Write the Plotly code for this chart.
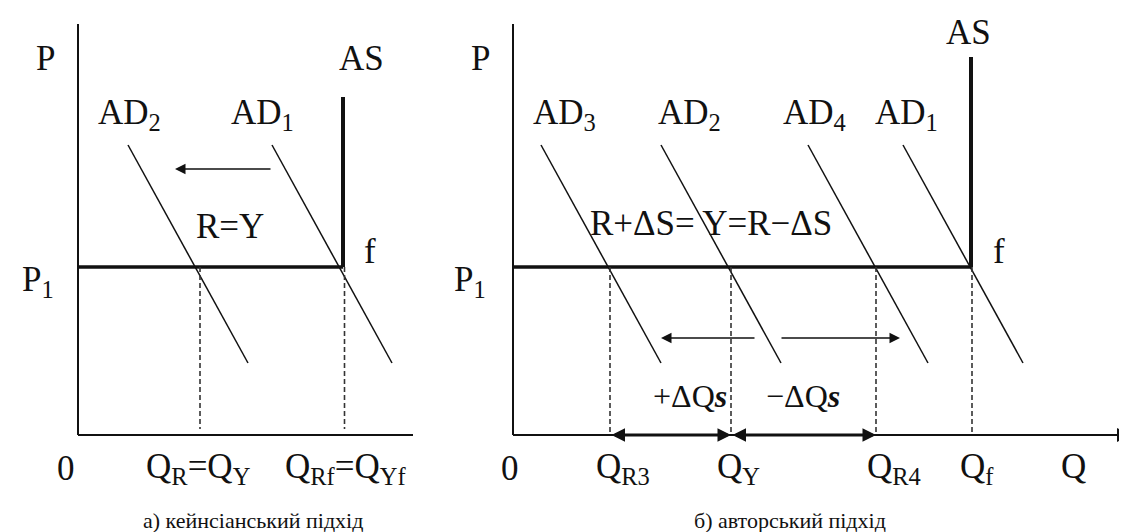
import plotly.graph_objects as go

W, H = 1127, 532

# ---------------- data (units: Q, P in arbitrary chart units) ----------------
P_TOP = 41.1          # top of price axis
P1 = 16.8             # price level P1

# left panel (Keynesian)
Q_END_L = 33.5
Q_F_L = 26.5
AS_TOP_L = 33.8
AD_P = [29.0, 7.2]            # price at top / bottom of each AD segment
AD2_L = [5.0, 17.0]
AD1_L = [19.4, 31.4]
Q_R_L = 12.2
DASH_BOTTOM = 0.6
SHIFT_L = [19.4, 9.7]         # AD shift arrow (from, to)
SHIFT_P_L = 26.6

# right panel (author's approach)
Q_END_R = 61.8
Q_F_R = 45.9
AS_TOP_R = 37.8
AD3_R = [2.8, 14.8]
AD2_R = [14.8, 26.8]
AD4_R = [29.5, 41.5]
AD1_R = [39.0, 51.0]
Q_R3, Q_Y, Q_R4 = 9.7, 21.8, 36.3
SHIFT_LEFT_R = [24.3, 14.8]
SHIFT_RIGHT_R = [26.7, 38.7]
SHIFT_P_R = 9.7

FONT = "Liberation Serif, Tinos, 'Times New Roman', 'DejaVu Serif', serif"
INK = "#111111"

fig = go.Figure()

def line(xs, ys, ax, width, dash=None, color=INK):
    fig.add_trace(go.Scatter(
        x=xs, y=ys, mode="lines", xaxis=ax[0], yaxis=ax[1],
        line=dict(color=color, width=width, dash=dash),
        hoverinfo="skip", showlegend=False))

L = ("x", "y")
R = ("x2", "y2")

# ---- left panel ----
line([0, 0], [0, P_TOP], L, 2)
line([0, Q_END_L], [0, 0], L, 2)
line([0, Q_F_L], [P1, P1], L, 3.5)
line([Q_F_L, Q_F_L], [P1, AS_TOP_L], L, 4)
line(AD2_L, AD_P, L, 1.5)
line(AD1_L, AD_P, L, 1.5)
line([Q_R_L, Q_R_L], [P1, DASH_BOTTOM], L, 1.6, dash="5px,3px", color="#333")
line([Q_F_L + 0.15, Q_F_L + 0.15], [P1, DASH_BOTTOM], L, 1.6, dash="5px,3px", color="#333")

# ---- right panel ----
line([0, 0], [0, P_TOP], R, 2)
line([0, Q_END_R - 0.5], [0, 0], R, 2)
line([0, Q_F_R], [P1, P1], R, 3.5)
line([Q_F_R - 0.1, Q_F_R - 0.1], [P1, AS_TOP_R], R, 4)
for seg in (AD3_R, AD2_R, AD4_R, AD1_R):
    line(seg, AD_P, R, 1.5)
for q in (Q_R3, Q_Y, Q_R4, Q_F_R):
    line([q, q], [P1, 0], R, 1.6, dash="5px,3px", color="#333")

annotations = []

def arrow(x_to, y_to, x_from, y_from, ax, width, side="end", size=1.0):
    annotations.append(dict(
        x=x_to, y=y_to, ax=x_from, ay=y_from,
        xref=ax[0], yref=ax[1], axref=ax[0], ayref=ax[1],
        showarrow=True, arrowhead=2, arrowsize=size, arrowwidth=width,
        arrowcolor=INK, arrowside=side, text=""))

arrow(SHIFT_L[1], SHIFT_P_L, SHIFT_L[0], SHIFT_P_L, L, 1.5, size=1.4)
arrow(SHIFT_LEFT_R[1], SHIFT_P_R, SHIFT_LEFT_R[0], SHIFT_P_R, R, 1.5, size=1.4)
arrow(SHIFT_RIGHT_R[1], SHIFT_P_R, SHIFT_RIGHT_R[0], SHIFT_P_R, R, 1.5, size=1.4)
arrow(Q_END_R, 0, Q_END_R - 1, 0, R, 2, size=1.4)
arrow(Q_Y, 0, Q_R3, 0, R, 3, side="end+start", size=0.9)
arrow(Q_R4, 0, Q_Y, 0, R, 3, side="end+start", size=0.9)

def label(text, px, py, size=35):
    annotations.append(dict(
        text=text, x=px / W, y=1 - py / H, xref="paper", yref="paper",
        showarrow=False, xanchor="center", yanchor="middle",
        font=dict(family=FONT, size=size, color=INK)))

# left labels
label("P", 37, 50)
label("AS", 353, 50)
label("AD<sub>2</sub>", 121, 106)
label("AD<sub>1</sub>", 254, 106)
label("R=Y", 222, 219)
label("f", 362, 243)
label("P<sub>1</sub>", 30, 273)
label("0", 58, 460)
label("Q<sub>R</sub>=Q<sub>Y</sub>", 190, 460)
label("Q<sub>Rf</sub>=Q<sub>Yf</sub>", 337, 460)
label("а) кейнсіанський підхід", 245, 512, size=22)

# right labels
label("P", 472, 50)
label("AS", 960, 25)
label("AD<sub>3</sub>", 556, 106)
label("AD<sub>2</sub>", 681, 106)
label("AD<sub>4</sub>", 806, 106)
label("AD<sub>1</sub>", 898, 106)
label("R+ΔS= Y=R−ΔS", 703, 215)
label("f", 991, 243)
label("P<sub>1</sub>", 462, 273)
label("+ΔQ<b><i>s</i></b>", 682, 388, size=32)
label("−ΔQ<b><i>s</i></b>", 795, 388, size=32)
label("0", 502, 460)
label("Q<sub>R3</sub>", 615, 460)
label("Q<sub>Y</sub>", 730, 460)
label("Q<sub>R4</sub>", 886, 460)
label("Q<sub>f</sub>", 969, 460)
label("Q", 1065, 458)
label("б) авторський підхід", 782, 512, size=22)

# axes: 1 data unit = 10 px; origin left (70,427), right (505,427)
def dom_x(origin, lo, hi):
    return [(origin + 10 * lo) / W, (origin + 10 * hi) / W]

XL = [-1, 34.5]
XR = [-1, 62.1]
YR = [-1, 42]
ydom = [(H - (427 - 10 * YR[0])) / H, (H - (427 - 10 * YR[1])) / H]

ax_common = dict(visible=False, fixedrange=True)
fig.update_layout(
    width=W, height=H, margin=dict(l=0, r=0, t=0, b=0),
    paper_bgcolor="white", plot_bgcolor="white",
    xaxis=dict(domain=dom_x(70, *XL), range=XL, **ax_common),
    yaxis=dict(domain=ydom, range=YR, **ax_common),
    xaxis2=dict(domain=dom_x(505, *XR), range=XR, anchor="y2", **ax_common),
    yaxis2=dict(domain=ydom, range=YR, anchor="x2", **ax_common),
    annotations=annotations,
    showlegend=False,
)

fig.write_html("out.html")
